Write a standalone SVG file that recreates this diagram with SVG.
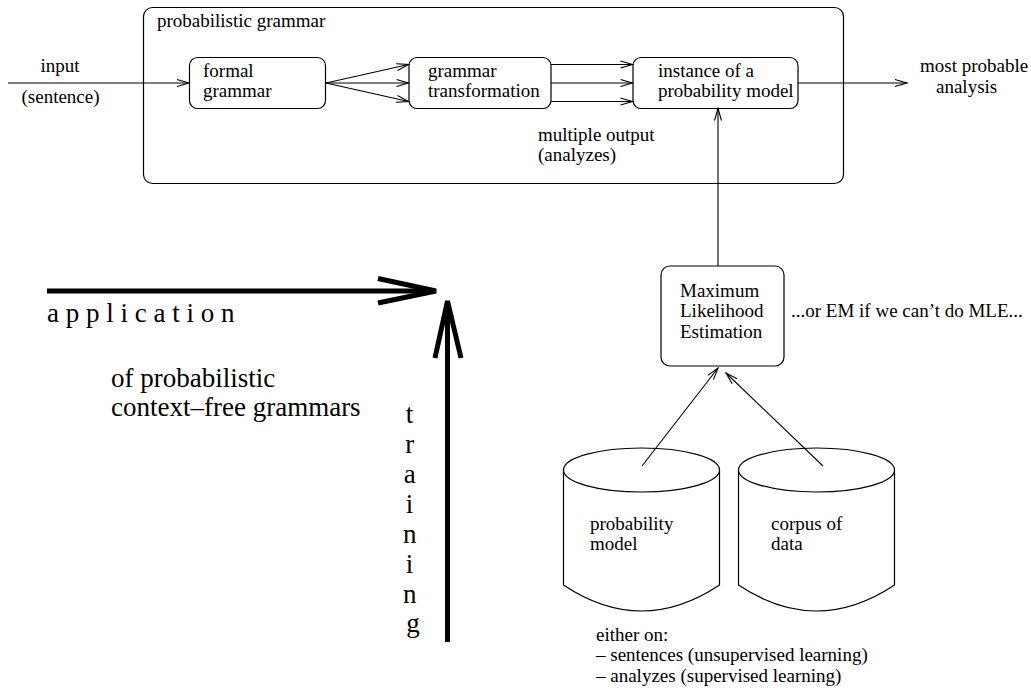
<svg xmlns="http://www.w3.org/2000/svg" width="1031" height="692" viewBox="0 0 1031 692">
<style>
  text { font-family: "Liberation Serif", "Times New Roman", serif; fill: #000; }
  .t19 { font-size: 19px; }
  .t27 { font-size: 27px; }
  .box { fill: #fff; stroke: #000; stroke-width: 1.2; }
  .cyl { fill: #fff; stroke: #000; stroke-width: 1.2; }
  .ln { fill: none; stroke: #000; stroke-width: 1.1; }
  .thick { fill: none; stroke: #000; stroke-width: 5; }
</style>
<defs>
  <marker id="arr" markerUnits="userSpaceOnUse" markerWidth="14" markerHeight="10" refX="12" refY="4" orient="auto" overflow="visible">
    <path d="M0,0.5 L12,4 L0,7.5" fill="none" stroke="#000" stroke-width="1.1"/>
  </marker>
</defs>
<rect width="1031" height="692" fill="#fff"/>

<g id="probabilistic-grammar">
  <rect class="box" x="143.5" y="7.5" width="700" height="176" rx="9" fill="none"/>
  <text class="t19" x="157" y="27">probabilistic grammar</text>
</g>

<g id="formal-grammar">
  <rect class="box" x="189.5" y="57.5" width="136" height="51" rx="8"/>
  <text class="t19" x="203" y="77">formal</text>
  <text class="t19" x="203" y="97">grammar</text>
</g>

<g id="grammar-transformation">
  <rect class="box" x="409" y="57.5" width="142" height="51" rx="8"/>
  <text class="t19" x="428" y="77">grammar</text>
  <text class="t19" x="428" y="97">transformation</text>
</g>

<g id="instance">
  <rect class="box" x="633" y="57.5" width="165" height="51" rx="8"/>
  <text class="t19" x="658" y="77">instance of a</text>
  <text class="t19" x="658" y="97">probability model</text>
</g>

<g id="mle">
  <rect class="box" x="661" y="266" width="123" height="100" rx="9"/>
  <text class="t19" x="680" y="297">Maximum</text>
  <text class="t19" x="680" y="317">Likelihood</text>
  <text class="t19" x="680" y="338">Estimation</text>
</g>

<g id="probability-model-db">
  <path class="cyl" d="M563.5,470 L563.5,585 Q641.5,637 719.5,585 L719.5,470"/>
  <ellipse class="cyl" cx="641.5" cy="470" rx="78" ry="22"/>
  <text class="t19" x="590" y="530">probability</text>
  <text class="t19" x="590" y="550">model</text>
</g>

<g id="corpus-db">
  <path class="cyl" d="M738.5,470 L738.5,585 Q816.5,637 894.5,585 L894.5,470"/>
  <ellipse class="cyl" cx="816.5" cy="470" rx="78" ry="22"/>
  <text class="t19" x="771" y="530">corpus of</text>
  <text class="t19" x="771" y="550">data</text>
</g>

<g id="connectors">
  <line class="ln" x1="8" y1="83" x2="189" y2="83" marker-end="url(#arr)"/>
  <line class="ln" x1="326" y1="83" x2="408.5" y2="64.5" marker-end="url(#arr)"/>
  <line class="ln" x1="326" y1="83" x2="408.5" y2="83" marker-end="url(#arr)"/>
  <line class="ln" x1="326" y1="83" x2="408.5" y2="101.5" marker-end="url(#arr)"/>
  <line class="ln" x1="551" y1="64.5" x2="632.5" y2="64.5" marker-end="url(#arr)"/>
  <line class="ln" x1="551" y1="83" x2="632.5" y2="83" marker-end="url(#arr)"/>
  <line class="ln" x1="551" y1="101.5" x2="632.5" y2="101.5" marker-end="url(#arr)"/>
  <line class="ln" x1="798" y1="83" x2="907" y2="83" marker-end="url(#arr)"/>
  <line class="ln" x1="718" y1="266" x2="718" y2="108.5" marker-end="url(#arr)"/>
  <line class="ln" x1="642" y1="466" x2="718" y2="368" marker-end="url(#arr)"/>
  <line class="ln" x1="823" y1="466" x2="726" y2="373" marker-end="url(#arr)"/>
  <line class="thick" x1="47" y1="291" x2="434" y2="291"/>
  <polyline class="thick" points="378,278.5 436,291 378,303"/>
  <line class="thick" x1="447.5" y1="642" x2="447.5" y2="303"/>
  <polyline class="thick" points="435,358 447.5,301 461,358"/>
</g>

<g id="labels">
  <text class="t19" x="40.5" y="72">input</text>
  <text class="t19" x="21.5" y="103">(sentence)</text>
  <text class="t19" x="538" y="141">multiple output</text>
  <text class="t19" x="538" y="161">(analyzes)</text>
  <text class="t19" x="920" y="72">most probable</text>
  <text class="t19" x="936" y="93">analysis</text>
  <text class="t19" x="791" y="317">...or EM if we can’t do MLE...</text>
  <text class="t19" x="596" y="641">either on:</text>
  <text class="t19" x="596" y="661">– sentences (unsupervised learning)</text>
  <text class="t19" x="596" y="682">– analyzes (supervised learning)</text>
  <text class="t27" x="47" y="322">a p p l i c a t i o n</text>
  <text class="t27" x="111" y="387">of probabilistic</text>
  <text class="t27" x="111" y="416">context–free grammars</text>
  <text class="t27" text-anchor="middle">
    <tspan x="413" y="423">t</tspan>
    <tspan x="413" y="453">r</tspan>
    <tspan x="413" y="483">a</tspan>
    <tspan x="413" y="513">i</tspan>
    <tspan x="413" y="543">n</tspan>
    <tspan x="413" y="573">i</tspan>
    <tspan x="413" y="603">n</tspan>
    <tspan x="413" y="632">g</tspan>
  </text>
</g>
</svg>
